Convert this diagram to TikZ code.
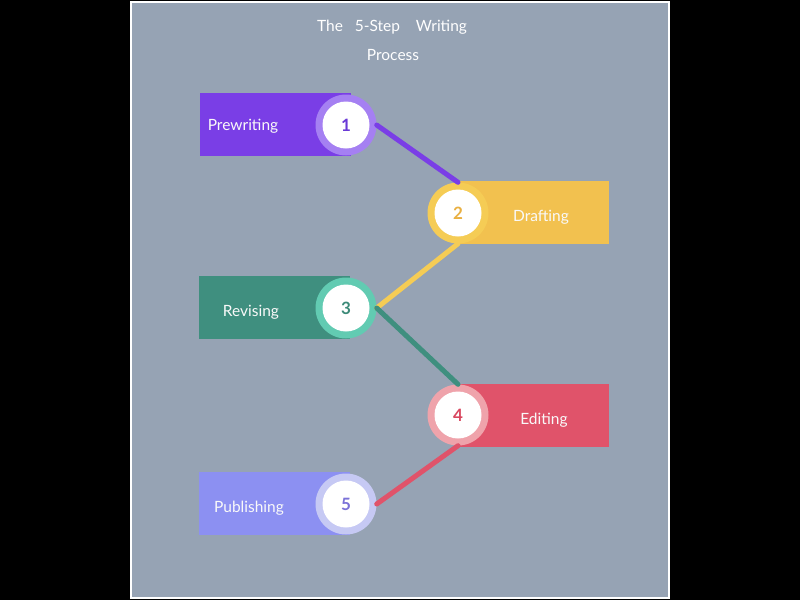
\documentclass[tikz,border=0pt]{standalone}
\usepackage{fontspec}
\setmainfont{Lato}
\definecolor{bgc}{HTML}{96A3B4}
\definecolor{pA}{HTML}{7A3EE6}\definecolor{pR}{HTML}{A580F2}\definecolor{pN}{HTML}{6A3AD6}
\definecolor{yA}{HTML}{F2C14F}\definecolor{yR}{HTML}{F5CC55}\definecolor{yN}{HTML}{E9B042}
\definecolor{tA}{HTML}{3F8F7F}\definecolor{tR}{HTML}{62CBB2}\definecolor{tN}{HTML}{3C8A78}
\definecolor{rA}{HTML}{E0536A}\definecolor{rR}{HTML}{EFA3AB}\definecolor{rN}{HTML}{D9475F}
\definecolor{bA}{HTML}{8C90F2}\definecolor{bR}{HTML}{C6C9F4}\definecolor{bN}{HTML}{7B72D8}
\begin{document}
\begin{tikzpicture}[x=1pt,y=-1pt,
  bar/.style={rectangle,inner sep=0pt,minimum height=63pt,minimum width=151pt,draw=none},
  ring/.style={circle,inner sep=0pt,minimum size=61pt},
  core/.style={circle,inner sep=0pt,minimum size=47pt,fill=white},
  lbl/.style={text=white!95!gray,font=\fontsize{15.5}{18}\selectfont},
  num/.style={font=\bfseries\fontsize{17}{19}\selectfont},
  link/.style={line width=5pt,line cap=round},
  ttl/.style={text=white,font=\fontsize{15.5}{18}\selectfont}]
\useasboundingbox (0,0) rectangle (800,600);
\fill[black] (0,0) rectangle (800,600);
\fill[white] (130,1) rectangle (670,599);
\fill[bgc] (132,3) rectangle (668,597);
\node[ttl] (title1) at (392,27) {The\ \ \ 5-Step\ \ \ \ Writing};
\node[ttl] (title2) at (393,55) {Process};
% bars
\node[bar,fill=pA,anchor=west] (r1) at (200,124.5) {};
\node[bar,fill=yA,anchor=east] (r2) at (609,212.5) {};
\node[bar,fill=tA,anchor=west] (r3) at (199,307.5) {};
\node[bar,fill=rA,anchor=east] (r4) at (609,415) {};
\node[bar,fill=bA,anchor=west] (r5) at (199,503.5) {};
% rings
\node[ring,fill=pR] (c1) at (346,125) {};
\node[ring,fill=yR] (c2) at (458,213) {};
\node[ring,fill=tR] (c3) at (346,308) {};
\node[ring,fill=rR] (c4) at (458,415) {};
\node[ring,fill=bR] (c5) at (346,504) {};
% links
\draw[link,pA] (c1.east) -- (c2.north);
\draw[link,yR] (c2.south) -- (c3.east);
\draw[link,tA] (c3.east) -- (c4.north);
\draw[link,rA] (c4.south) -- (c5.east);
% cores
\node[core,text=pN,num] (n1) at (c1) {1};
\node[core,text=yN,num] (n2) at (c2) {2};
\node[core,text=tN,num] (n3) at (c3) {3};
\node[core,text=rN,num] (n4) at (c4) {4};
\node[core,text=bN,num] (n5) at (c5) {5};
% labels
\node[lbl] (t1) at (243,126) {Prewriting};
\node[lbl] (t2) at (541,217) {Drafting};
\node[lbl] (t3) at (251,312) {Revising};
\node[lbl] (t4) at (544,420) {Editing};
\node[lbl] (t5) at (249,508) {Publishing};
\end{tikzpicture}
\end{document}
